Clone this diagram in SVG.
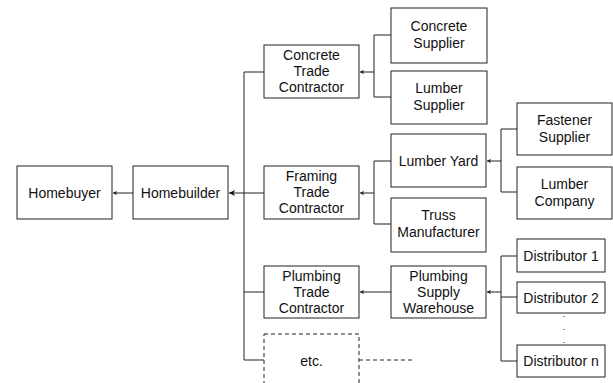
<svg xmlns="http://www.w3.org/2000/svg" width="613" height="383" viewBox="0 0 613 383">
<style>
.b{fill:#fff;stroke:#222;stroke-width:1}
.d{fill:#fff;stroke:#222;stroke-width:1;stroke-dasharray:4,3}
.t{font-family:"Liberation Sans",Arial,sans-serif;font-size:14px;fill:#111;text-anchor:middle}
.c{fill:none;stroke:#222;stroke-width:1}
</style>
<defs>
<marker id="a" markerWidth="6" markerHeight="6" refX="5" refY="3" orient="auto" markerUnits="userSpaceOnUse">
<path d="M5,3 L1,0.8 L2,3 L1,5.2 Z" fill="#222"/>
</marker>
<marker id="ab" markerWidth="8" markerHeight="8" refX="7" refY="4" orient="auto" markerUnits="userSpaceOnUse">
<path d="M7,4 L1,1 L2.5,4 L1,7 Z" fill="#111"/>
</marker>
</defs>
<g id="connectors">
<line class="c" x1="133" y1="193" x2="113" y2="193" marker-end="url(#a)"/>
<line class="c" x1="244" y1="72" x2="244" y2="360"/>
<line class="c" x1="244" y1="72" x2="264" y2="72"/>
<line class="c" x1="264" y1="193" x2="229" y2="193" stroke-width="1.3" marker-end="url(#ab)"/>
<line class="c" x1="244" y1="292" x2="264" y2="292"/>
<line class="c" x1="244" y1="360" x2="264" y2="360"/>
<line class="c" x1="359" y1="360" x2="412" y2="360" stroke-dasharray="4,3"/>
<polyline class="c" points="391,35 374,35 374,97 391,97"/>
<line class="c" x1="374" y1="72" x2="360" y2="72" marker-end="url(#a)"/>
<polyline class="c" points="391,161 374,161 374,224 391,224"/>
<line class="c" x1="374" y1="193" x2="360" y2="193" marker-end="url(#a)"/>
<polyline class="c" points="517,129 501,129 501,192 517,192"/>
<line class="c" x1="501" y1="161" x2="487" y2="161" stroke-width="1.3" marker-end="url(#a)"/>
<line class="c" x1="391" y1="292" x2="360" y2="292" marker-end="url(#a)"/>
<polyline class="c" points="517,256 501,256 501,361 517,361"/>
<line class="c" x1="501" y1="297" x2="517" y2="297"/>
<line class="c" x1="501" y1="292" x2="487" y2="292" stroke-width="1.3" marker-end="url(#a)"/>
<line class="c" x1="564" y1="316" x2="564" y2="345" stroke-dasharray="1,12"/>
</g>
<g id="homebuyer"><rect class="b" x="17" y="166" width="95" height="53"/><text class="t" x="64.5" y="198">Homebuyer</text></g>
<g id="homebuilder"><rect class="b" x="133" y="166" width="95" height="53"/><text class="t" x="180.5" y="198">Homebuilder</text></g>
<g id="concrete-trade"><rect class="b" x="264" y="45" width="95" height="53"/><text class="t" x="311.5" y="60">Concrete</text><text class="t" x="311.5" y="76">Trade</text><text class="t" x="311.5" y="92">Contractor</text></g>
<g id="framing-trade"><rect class="b" x="264" y="166" width="95" height="53"/><text class="t" x="311.5" y="181">Framing</text><text class="t" x="311.5" y="197">Trade</text><text class="t" x="311.5" y="213">Contractor</text></g>
<g id="plumbing-trade"><rect class="b" x="264" y="266" width="95" height="52"/><text class="t" x="311.5" y="281">Plumbing</text><text class="t" x="311.5" y="297">Trade</text><text class="t" x="311.5" y="313">Contractor</text></g>
<g id="etc"><rect class="d" x="264" y="334" width="95" height="60"/><text class="t" x="311.5" y="366">etc.</text></g>
<g id="concrete-supplier"><rect class="b" x="391" y="8" width="96" height="55"/><text class="t" x="439" y="31">Concrete</text><text class="t" x="439" y="48">Supplier</text></g>
<g id="lumber-supplier"><rect class="b" x="391" y="71" width="96" height="53"/><text class="t" x="439" y="93">Lumber</text><text class="t" x="439" y="110">Supplier</text></g>
<g id="lumber-yard"><rect class="b" x="391" y="134" width="95" height="53"/><text class="t" x="438.5" y="166">Lumber Yard</text></g>
<g id="truss"><rect class="b" x="391" y="198" width="95" height="54"/><text class="t" x="438.5" y="220">Truss</text><text class="t" x="438.5" y="237">Manufacturer</text></g>
<g id="plumbing-supply"><rect class="b" x="391" y="266" width="95" height="52"/><text class="t" x="438.5" y="281">Plumbing</text><text class="t" x="438.5" y="297">Supply</text><text class="t" x="438.5" y="313">Warehouse</text></g>
<g id="fastener"><rect class="b" x="517" y="103" width="95" height="52"/><text class="t" x="564.5" y="125">Fastener</text><text class="t" x="564.5" y="142">Supplier</text></g>
<g id="lumber-company"><rect class="b" x="517" y="167" width="95" height="52"/><text class="t" x="564.5" y="189">Lumber</text><text class="t" x="564.5" y="206">Company</text></g>
<g id="distributor-1"><rect class="b" x="517" y="239" width="88" height="33"/><text class="t" x="561" y="261">Distributor 1</text></g>
<g id="distributor-2"><rect class="b" x="517" y="282" width="88" height="31"/><text class="t" x="561" y="303">Distributor 2</text></g>
<g id="distributor-n"><rect class="b" x="517" y="345" width="88" height="32"/><text class="t" x="561" y="366">Distributor n</text></g>
</svg>
